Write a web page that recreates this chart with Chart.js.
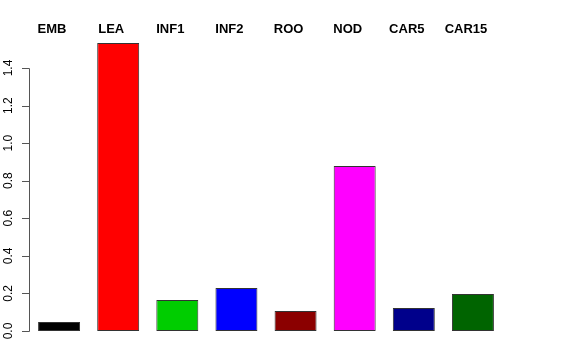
<!DOCTYPE html>
<html>
<head>
<meta charset="utf-8">
<script src="https://cdn.jsdelivr.net/npm/chart.js@4/dist/chart.umd.min.js"></script>
<style>
  html, body { margin: 0; padding: 0; background: #fff; }
  #wrap { width: 576px; height: 360px; }
</style>
</head>
<body>
<div id="wrap"><canvas id="myChart"></canvas></div>
<script>
const categories = ['EMB', 'LEA', 'INF1', 'INF2', 'ROO', 'NOD', 'CAR5', 'CAR15'];
const values = [0.048, 1.533, 0.165, 0.229, 0.106, 0.878, 0.122, 0.197];
const barColors = ['#000000', '#ff0000', '#00cd00', '#0000ff', '#8b0000', '#ff00ff', '#00008b', '#006400'];
const yTicks = [0, 0.2, 0.4, 0.6, 0.8, 1.0, 1.2, 1.4];

// top labels plus an R-style left axis (line only from 0 to 1.4, rotated labels)
const rStyle = {
  id: 'rStyle',
  afterDraw(chart) {
    const ctx = chart.ctx;
    const x = chart.scales.x;
    const y = chart.scales.y;
    ctx.save();
    ctx.font = 'bold 13px "Liberation Sans", Arial, sans-serif';
    ctx.fillStyle = '#000';
    ctx.textAlign = 'center';
    ctx.textBaseline = 'middle';
    categories.forEach((c, i) => {
      ctx.fillText(c, x.getPixelForValue(i) - 7, 29);
    });

    ctx.strokeStyle = '#555';
    ctx.lineWidth = 1;
    ctx.beginPath();
    ctx.moveTo(29.5, Math.round(y.getPixelForValue(0)) + 0.5);
    ctx.lineTo(29.5, Math.round(y.getPixelForValue(yTicks[yTicks.length - 1])) + 0.5);
    yTicks.forEach(v => {
      const py = Math.round(y.getPixelForValue(v)) + 0.5;
      ctx.moveTo(22, py);
      ctx.lineTo(29.5, py);
    });
    ctx.stroke();

    ctx.font = '12px "Liberation Sans", Arial, sans-serif';
    yTicks.forEach(v => {
      ctx.save();
      ctx.translate(9, y.getPixelForValue(v));
      ctx.rotate(-Math.PI / 2);
      ctx.fillText(v.toFixed(1), 0, 0);
      ctx.restore();
    });
    ctx.restore();
  }
};

const ctx = document.getElementById('myChart').getContext('2d');
const myChart = new Chart(ctx, {
  type: 'bar',
  data: {
    labels: categories,
    datasets: [{
      data: values,
      backgroundColor: barColors,
      borderColor: '#333',
      borderWidth: 1,
      borderSkipped: false,
      barPercentage: 0.71,
      categoryPercentage: 1.0
    }]
  },
  options: {
    responsive: true,
    maintainAspectRatio: false,
    animation: false,
    layout: { padding: { left: 0, right: 73.5, top: 30.4, bottom: 29 } },
    plugins: { legend: { display: false }, tooltip: { enabled: false } },
    scales: {
      x: { display: false },
      y: {
        min: 0,
        max: 1.6,
        afterFit: (scale) => { scale.width = 29.5; },
        border: { display: false },
        grid: { display: false },
        ticks: { display: false }
      }
    }
  },
  plugins: [rStyle]
});
</script>
</body>
</html>
